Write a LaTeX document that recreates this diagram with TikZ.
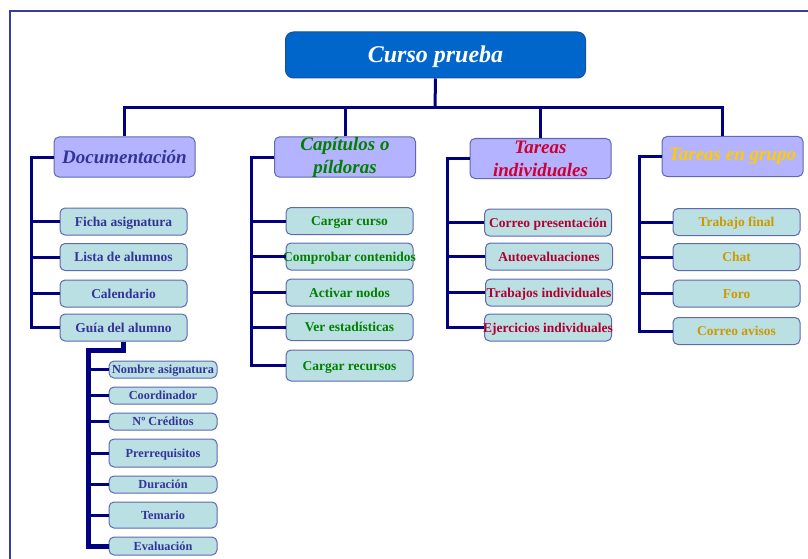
\documentclass[tikz,border=0pt]{standalone}
\usepackage{fontspec}
\setmainfont{Liberation Serif}
\usetikzlibrary{positioning}

\definecolor{linecol}{HTML}{000080}
\definecolor{framecol}{HTML}{3A3AA0}
\definecolor{rootfill}{HTML}{0066CC}
\definecolor{rootline}{HTML}{1A4F9C}
\definecolor{catfill}{HTML}{B3B3FF}
\definecolor{itemfill}{HTML}{BBE0E3}
\definecolor{boxline}{HTML}{6068B0}
\definecolor{docblue}{HTML}{333399}
\definecolor{capgreen}{HTML}{008000}
\definecolor{indred}{HTML}{CC0033}
\definecolor{itemred}{HTML}{B00030}
\definecolor{grpgold}{HTML}{FFCC00}
\definecolor{itemgold}{HTML}{CC9900}

\begin{document}
\begin{tikzpicture}[x=1pt, y=-1pt,
    link/.style={draw=linecol, line width=3pt},
    box/.style={draw=boxline, line width=1pt, rounded corners=5pt, inner sep=0pt},
    raiz/.style={box, fill=rootfill, draw=rootline, rounded corners=8pt, minimum width=300pt, minimum height=46pt,
                 text=white, font=\bfseries\itshape\fontsize{24}{28}\selectfont, text height=16pt, text depth=0pt},
    rama/.style={box, fill=catfill, minimum width=141pt, minimum height=40pt, align=center,
                 font=\bfseries\itshape\fontsize{19}{23}\selectfont},
    hoja/.style={box, fill=itemfill, minimum width=127pt, minimum height=27pt, font=\bfseries\fontsize{13.5}{15}\selectfont,
                 text height=9pt, text depth=0pt,
                 execute at begin node={\hbox to 0pt\bgroup\hss}, execute at end node={\hss\egroup}},
    subhoja/.style={hoja, minimum width=108pt, minimum height=17pt, font=\bfseries\fontsize{12.3}{14}\selectfont,
                 text height=8.1pt}]
  \useasboundingbox (0,0) rectangle (808,559);
  \draw[framecol, line width=2pt] (9.7,559) -- (9.7,11) -- (808,11);

  % top levels
  \node[raiz] (raiz) at (435.5,55) {Curso prueba};
  \node[rama, text=docblue] (doc) at (124.5,157) {Documentación};
  \node[rama, text=capgreen] (cap) at (345,157) {Capítulos o\\píldoras};
  \node[rama, text=indred] (ind) at (540.5,158.5) {Tareas\\individuales};
  \node[rama, text=grpgold] (grp) at (732.5,156.5) {Tareas en grupo};

  % Documentacion
  \node[hoja, text=docblue] (ficha) at (123.5,221.5) {Ficha asignatura};
  \node[hoja, text=docblue] (lista) at (123.5,257) {Lista de alumnos};
  \node[hoja, text=docblue] (calendario) at (123.5,293.5) {Calendario};
  \node[hoja, text=docblue] (guia) at (123.5,327.5) {Guía del alumno};

  \node[subhoja, text=docblue] (nombre) at (163,369.5) {Nombre asignatura};
  \node[subhoja, text=docblue] (coord) at (163,395.5) {Coordinador};
  \node[subhoja, text=docblue] (creditos) at (163,421.5) {Nº Créditos};
  \node[subhoja, text=docblue, minimum height=28pt] (prerreq) at (163,453) {Prerrequisitos};
  \node[subhoja, text=docblue] (duracion) at (163,484.5) {Duración};
  \node[subhoja, text=docblue, minimum height=26pt] (temario) at (163,515) {Temario};
  \node[subhoja, text=docblue, minimum height=18pt] (evaluacion) at (163,546) {Evaluación};

  % Capitulos
  \node[hoja, text=capgreen] (cargar) at (349.5,221) {Cargar curso};
  \node[hoja, text=capgreen] (comprobar) at (349.5,256.5) {Comprobar contenidos};
  \node[hoja, text=capgreen] (activar) at (349.5,292.5) {Activar nodos};
  \node[hoja, text=capgreen] (ver) at (349.5,327) {Ver estadísticas};
  \node[hoja, text=capgreen, minimum height=31pt] (recursos) at (349.5,365.5) {Cargar recursos};

  % Tareas individuales
  \node[hoja, text=itemred] (correo) at (548,222.5) {Correo presentación};
  \node[hoja, text=itemred] (autoeval) at (549,256.5) {Autoevaluaciones};
  \node[hoja, text=itemred] (trabajos) at (549,292.5) {Trabajos individuales};
  \node[hoja, text=itemred] (ejercicios) at (548,327.5) {Ejercicios individuales};

  % Tareas en grupo
  \node[hoja, text=itemgold] (final) at (736.5,222) {Trabajo final};
  \node[hoja, text=itemgold] (chat) at (736.5,257) {Chat};
  \node[hoja, text=itemgold] (foro) at (736.5,293.5) {Foro};
  \node[hoja, text=itemgold] (avisos) at (736.5,331) {Correo avisos};

  % connectors
  \coordinate (bus) at (435,108);
  \draw[link] (raiz.south) -- (bus);
  \draw[link] (doc.north) |- (bus) -| ([xshift=-10.5pt]grp.north);
  \draw[link] (cap.north) -- (cap.north |- bus);
  \draw[link] (ind.north) -- (ind.north |- bus);

  \draw[link] (doc.west) -- ++(-22,0) coordinate (docbar) |- (guia.west);
  \foreach \n in {ficha,lista,calendario}
    \draw[link] (docbar |- \n.west) -- (\n.west);

  \draw[link] (cap.west) -- ++(-22.5,0) coordinate (capbar) |- (recursos.west);
  \foreach \n in {cargar,comprobar,activar,ver}
    \draw[link] (capbar |- \n.west) -- (\n.west);

  \draw[link] (ind.west) -- ++(-22.5,0) coordinate (indbar) |- (ejercicios.west);
  \foreach \n in {correo,autoeval,trabajos}
    \draw[link] (indbar |- \n.west) -- (\n.west);

  \draw[link] (grp.west) -- ++(-22,0) coordinate (grpbar) |- (avisos.west);
  \foreach \n in {final,chat,foro}
    \draw[link] (grpbar |- \n.west) -- (\n.west);

  \draw[link, line width=5pt] (guia.south) -- ++(0,9) -- ++(-35,0) coordinate (subbar) |- (evaluacion.west);
  \foreach \n in {nombre,coord,creditos,prerreq,duracion,temario}
    \draw[link] (subbar |- \n.west) -- (\n.west);
\end{tikzpicture}
\end{document}
